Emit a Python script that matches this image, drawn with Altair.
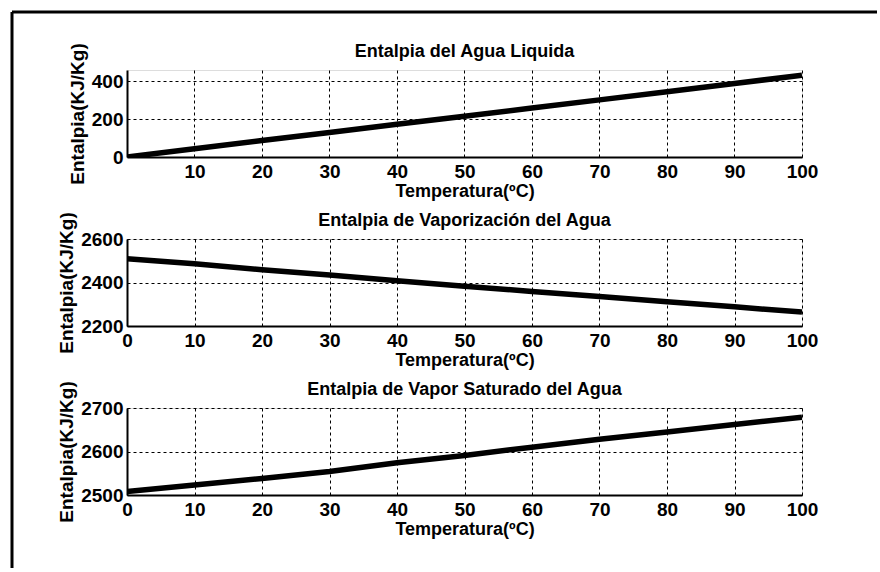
import altair as alt
import pandas as pd

# Temperatures (ºC) and enthalpies (kJ/kg) for each subplot
temp_liquido = [0.01, 10, 20, 30, 40, 50, 60, 70, 80, 90, 100]
temp = [0, 10, 20, 30, 40, 50, 60, 70, 80, 90, 100]
h_liquido = [0, 44, 87, 130, 173, 216, 259, 302, 345, 389, 432]
h_vaporizacion = [2509, 2486, 2459, 2434, 2408, 2383, 2359, 2336, 2312, 2288, 2264]
h_vapor = [2508, 2523, 2538, 2554, 2574, 2591, 2610, 2628, 2645, 2662, 2679]

titulos = [
    "Entalpia del Agua Liquida",
    "Entalpia de Vaporización del Agua",
    "Entalpia de Vapor Saturado del Agua",
]
x_label = "Temperatura(ºC)"
y_label = "Entalpia(KJ/Kg)"
x_ticks_liq = [10, 20, 30, 40, 50, 60, 70, 80, 90, 100]
x_ticks = [0, 10, 20, 30, 40, 50, 60, 70, 80, 90, 100]

FONT = "Liberation Sans"
W, H = 675, 87
uno = pd.DataFrame({"k": [0]})


def axis(values, title, orient):
    return alt.Axis(
        values=values,
        title=title,
        grid=True,
        gridColor="black",
        gridDash=[3, 3],
        gridWidth=1,
        gridOpacity=1,
        ticks=False,
        tickSize=0,
        domain=True,
        domainColor="black",
        domainWidth=2,
        labelFont=FONT,
        labelFontSize=19,
        labelFontWeight="bold",
        labelColor="black",
        labelPadding=5 if orient == "x" else 4,
        labelFlush=False,
        labelOverlap=False,
        titleFont=FONT,
        titleFontSize=18 if orient == "x" else 19,
        titleFontWeight="bold",
        titleColor="black",
        titlePadding=1 if orient == "x" else 4,
        format="d",
    )


def titulo(texto):
    # Subplot heading, centred just above the plot box
    return alt.Chart(uno).mark_text(
        text=texto, font=FONT, fontSize=18, fontWeight="bold", color="black",
        align="center", baseline="middle",
    ).encode(x=alt.value(W / 2), y=alt.value(-18))


def curva(t, h, xdom, xvals, ydom, yvals):
    df = pd.DataFrame({"T": t, "H": h})
    return (
        alt.Chart(df)
        .mark_line(color="black", strokeWidth=5.5, clip=True, strokeCap="butt")
        .encode(
            x=alt.X("T:Q", scale=alt.Scale(domain=xdom, nice=False, zero=False),
                    axis=axis(xvals, x_label, "x")),
            y=alt.Y("H:Q", scale=alt.Scale(domain=ydom, nice=False, zero=False),
                    axis=axis(yvals, y_label, "y")),
        )
    )


c1 = curva(temp_liquido, h_liquido, [0.01, 100], x_ticks_liq, [0, 460], [0, 200, 400])
c2 = curva(temp, h_vaporizacion, [0, 100], x_ticks, [2200, 2600], [2200, 2400, 2600])
c3 = curva(temp, h_vapor, [0, 100], x_ticks, [2500, 2700], [2500, 2600, 2700])

# Figure border (top and left edges), placed relative to the first panel
borde_sup = alt.Chart(uno).mark_rule(color="black", strokeWidth=3).encode(
    x=alt.value(-115), x2=alt.value(750), y=alt.value(-58))
borde_izq = alt.Chart(uno).mark_rule(color="black", strokeWidth=3).encode(
    x=alt.value(-115), y=alt.value(-58), y2=alt.value(498))

p1 = alt.layer(c1, titulo(titulos[0]), borde_sup, borde_izq).properties(width=W, height=H)
p2 = alt.layer(c2, titulo(titulos[1])).properties(width=W, height=H)
p3 = alt.layer(c3, titulo(titulos[2])).properties(width=W, height=H)

chart = (
    alt.vconcat(p1, p2, p3, spacing=82, bounds="flush")
    .properties(padding={"left": 10, "top": 10, "right": 0, "bottom": 0})
    .configure_view(stroke="black", strokeWidth=2)
    .configure(background="white")
)

chart.save("out.html", embed_options={"renderer": "svg", "actions": False})
